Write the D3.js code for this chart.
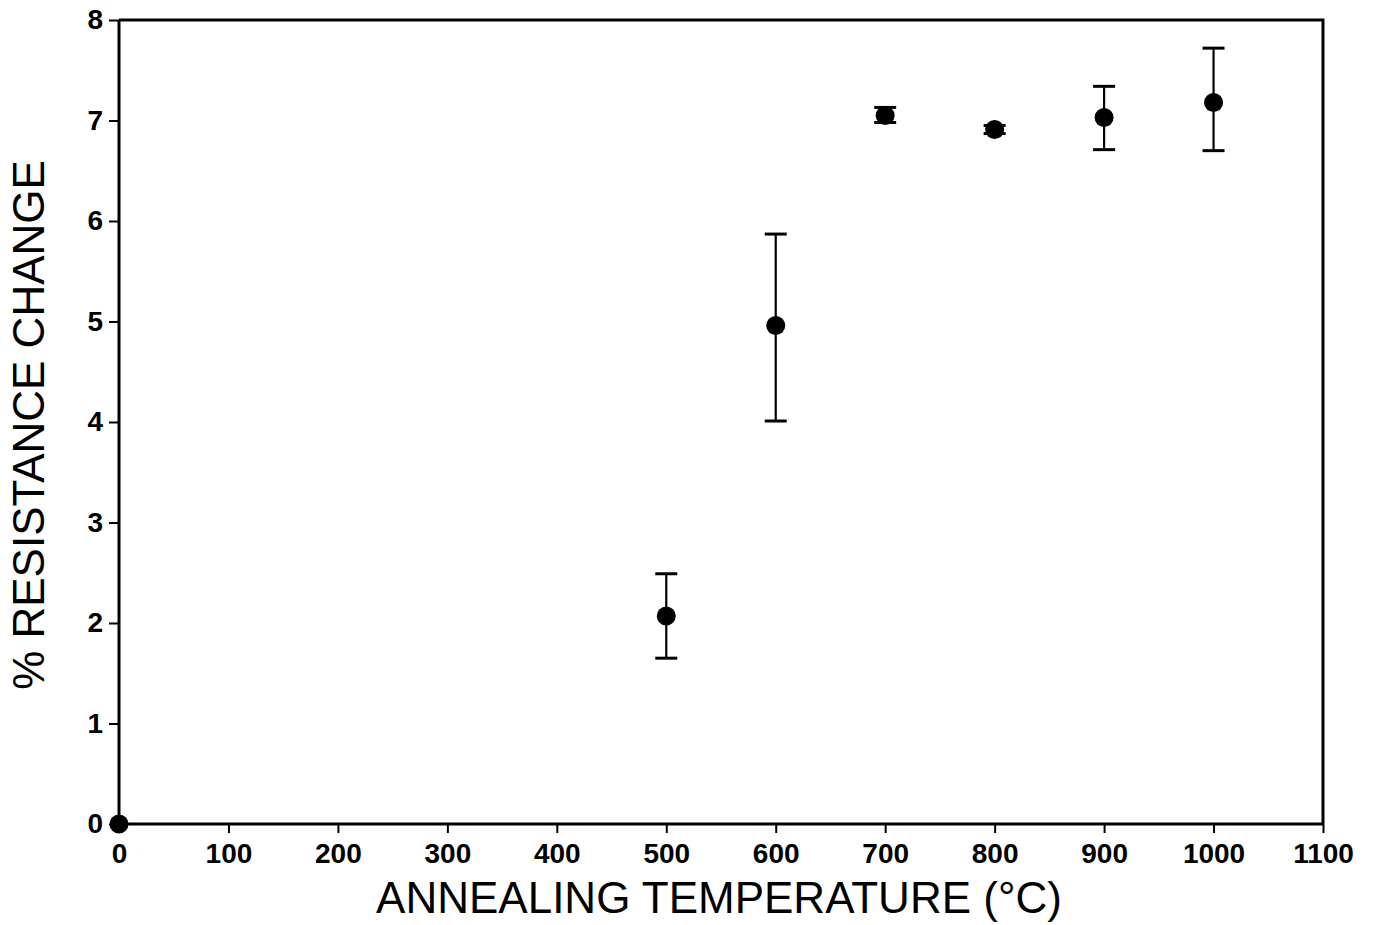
<!DOCTYPE html>
<html>
<head>
<meta charset="utf-8">
<script src="https://cdn.jsdelivr.net/npm/d3@7"></script>
<style>
  body { margin: 0; background: #fff; }
  svg text { font-family: "Liberation Sans", Arial, Helvetica, sans-serif; fill: #000; }
</style>
</head>
<body>
<svg id="chart" width="1374" height="925"></svg>
<script>
// Annealing temperature (°C) vs. % resistance change, with error bars
const temperatures = [0, 500, 600, 700, 800, 900, 1000];
const meanChange   = [0, 2.07, 4.96, 7.05, 6.91, 7.03, 7.18];
const upperBound   = [0, 2.49, 5.87, 7.13, 6.95, 7.34, 7.72];
const lowerBound   = [0, 1.65, 4.01, 6.98, 6.87, 6.71, 6.70];
const hasErrorBar  = [false, true, true, true, true, true, true];

const xTicks = [0, 100, 200, 300, 400, 500, 600, 700, 800, 900, 1000, 1100];
const yTicks = [0, 1, 2, 3, 4, 5, 6, 7, 8];

const xTitle = "ANNEALING TEMPERATURE (\u00B0C)";
const yTitle = "% RESISTANCE CHANGE";

const margin = { left: 119, right: 51, top: 20, bottom: 101 };
const W = 1374, H = 925;
const svg = d3.select("#chart");

const x = d3.scaleLinear().domain([0, 1100]).range([margin.left, W - margin.right]);
const y = d3.scaleLinear().domain([0, 8]).range([H - margin.bottom, margin.top]);

// frame (top and right edges)
svg.append("path")
  .attr("d", `M${x(0)},${y(8)}H${x(1100)}V${y(0)}`)
  .attr("fill", "none").attr("stroke", "#000").attr("stroke-width", 3);

// bottom axis
const xAxis = svg.append("g")
  .attr("transform", `translate(0,${y(0)})`)
  .call(d3.axisBottom(x).tickValues(xTicks).tickSize(9).tickPadding(10).tickFormat(d3.format("d")));
xAxis.select(".domain").attr("stroke-width", 3).attr("d", `M${x(0)},0H${x(1100)}`);
xAxis.selectAll(".tick line").attr("stroke-width", 2);
xAxis.selectAll(".tick text")
  .attr("font-size", 28).attr("font-weight", "bold")
  .style("font-family", "'Liberation Sans', Arial, sans-serif");

// left axis
const yAxis = svg.append("g")
  .attr("transform", `translate(${x(0)},0)`)
  .call(d3.axisLeft(y).tickValues(yTicks).tickSize(10).tickPadding(6).tickFormat(d3.format("d")));
yAxis.select(".domain").attr("stroke-width", 3).attr("d", `M0,${y(0)}V${y(8)}`);
yAxis.selectAll(".tick line").attr("stroke-width", 2);
yAxis.selectAll(".tick text")
  .attr("font-size", 28).attr("font-weight", "bold")
  .style("font-family", "'Liberation Sans', Arial, sans-serif");

// axis titles
svg.append("text")
  .attr("x", 719)
  .attr("y", 913)
  .attr("text-anchor", "middle")
  .attr("font-size", 44)
  .text(xTitle);

svg.append("text")
  .attr("transform", `translate(44,425) rotate(-90)`)
  .attr("text-anchor", "middle")
  .attr("font-size", 44)
  .text(yTitle);

const points = temperatures.map((t, i) => ({
  t, m: meanChange[i], hi: upperBound[i], lo: lowerBound[i], bar: hasErrorBar[i]
}));

const capHalf = 11;
const bars = svg.append("g").selectAll("g").data(points.filter(d => d.bar)).join("g");
bars.append("line")
  .attr("x1", d => x(d.t)).attr("x2", d => x(d.t))
  .attr("y1", d => y(d.hi)).attr("y2", d => y(d.lo))
  .attr("stroke", "#000").attr("stroke-width", 2.2);
bars.append("line")
  .attr("x1", d => x(d.t) - capHalf).attr("x2", d => x(d.t) + capHalf)
  .attr("y1", d => y(d.hi)).attr("y2", d => y(d.hi))
  .attr("stroke", "#000").attr("stroke-width", 3);
bars.append("line")
  .attr("x1", d => x(d.t) - capHalf).attr("x2", d => x(d.t) + capHalf)
  .attr("y1", d => y(d.lo)).attr("y2", d => y(d.lo))
  .attr("stroke", "#000").attr("stroke-width", 3);

svg.append("g").selectAll("circle").data(points).join("circle")
  .attr("cx", d => x(d.t)).attr("cy", d => y(d.m))
  .attr("r", 9.5).attr("fill", "#000");
</script>
</body>
</html>
